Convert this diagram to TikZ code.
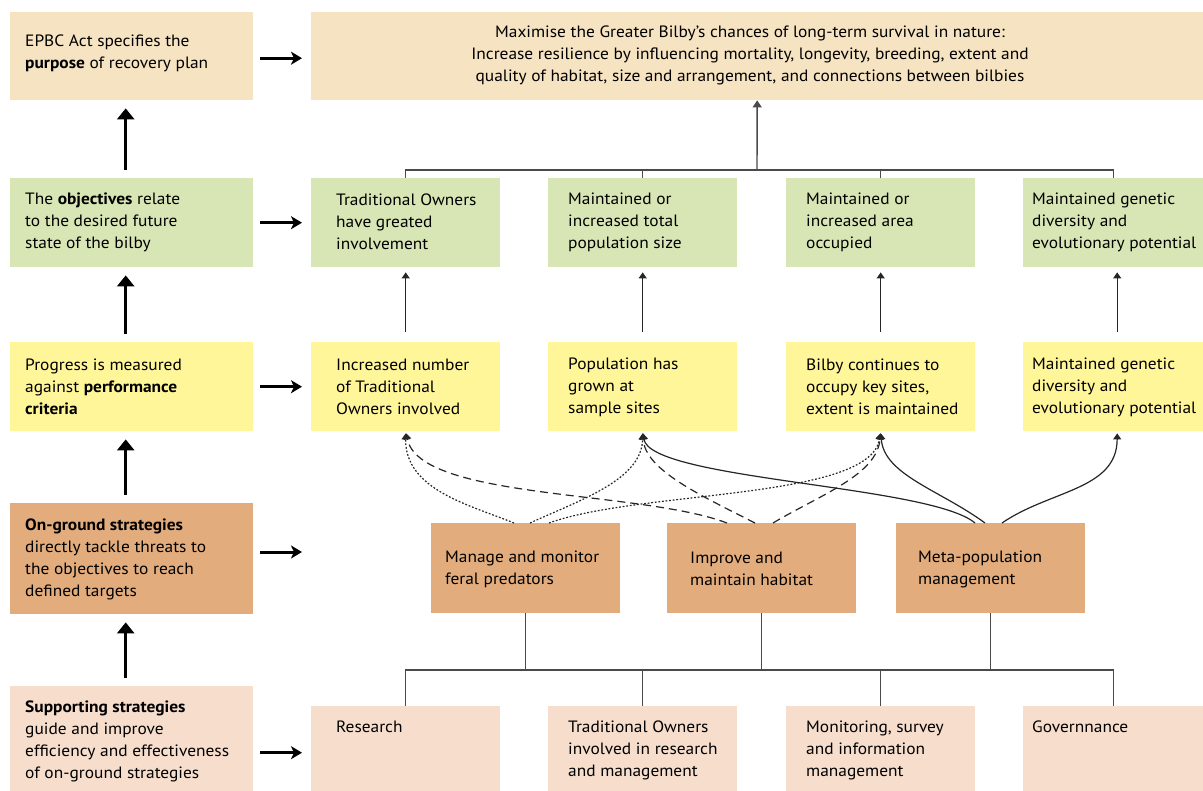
\documentclass[tikz,border=0pt]{standalone}
\usepackage{fontspec}
\setmainfont{PT Sans}[FakeStretch=1.06]
\usetikzlibrary{arrows.meta,calc}
\definecolor{cbeige}{HTML}{F5E3C1}
\definecolor{cgreen}{HTML}{D8E6B5}
\definecolor{cyellow}{HTML}{FFF599}
\definecolor{corange}{HTML}{E2AC7C}
\definecolor{cpeach}{HTML}{F6DDCC}
\definecolor{cline}{HTML}{4A4A4A}
\begin{document}
\begin{tikzpicture}[x=1pt,y=-1pt,
  box/.style={rectangle, draw=none, inner sep=0pt, anchor=north west},
  txt/.style={inner sep=0pt, align=left, anchor=west, font=\fontsize{16.4}{22}\selectfont, text=black},
  tree/.style={draw=cline, line width=1.4pt},
  link/.style={draw=black!85, line width=1.2pt, -{Triangle[width=8pt,length=6pt]}},
  bigup/.style={line width=3.5pt, -{Triangle[width=17pt,length=11pt]}, shorten <=8pt, shorten >=8pt},
  bigright/.style={line width=3pt, -{Stealth[width=13pt,length=11pt,inset=3pt]}, shorten <=7pt, shorten >=9pt},
  dotl/.style={dash pattern=on 1.8pt off 1.8pt},
  dashl/.style={dash pattern=on 8pt off 5pt},
]
\useasboundingbox (0,0) rectangle (1203,791);

% left column
\node[box, fill=cbeige, minimum width=243pt, minimum height=88pt] (l1) at (10,12) {};
\node[box, fill=cgreen, minimum width=243pt, minimum height=89pt] (l2) at (10,178) {};
\node[box, fill=cyellow, minimum width=243pt, minimum height=89pt] (l3) at (10,342) {};
\node[box, fill=corange, minimum width=243pt, minimum height=111pt] (l4) at (10,503) {};
\node[box, fill=cpeach, minimum width=243pt, minimum height=105pt] (l5) at (10,686) {};

% top
\node[box, fill=cbeige, minimum width=892pt, minimum height=88pt] (t) at (311,12) {};

% green
\node[box, fill=cgreen, minimum width=189pt, minimum height=89pt] (g1) at (311,178) {};
\node[box, fill=cgreen, minimum width=189pt, minimum height=89pt] (g2) at (548,178) {};
\node[box, fill=cgreen, minimum width=189pt, minimum height=89pt] (g3) at (786,178) {};
\node[box, fill=cgreen, minimum width=180pt, minimum height=89pt] (g4) at (1023,178) {};

% yellow
\node[box, fill=cyellow, minimum width=189pt, minimum height=89pt] (y1) at (311,342) {};
\node[box, fill=cyellow, minimum width=189pt, minimum height=89pt] (y2) at (548,342) {};
\node[box, fill=cyellow, minimum width=189pt, minimum height=89pt] (y3) at (786,342) {};
\node[box, fill=cyellow, minimum width=180pt, minimum height=89pt] (y4) at (1023,342) {};

% orange
\node[box, fill=corange, minimum width=189pt, minimum height=90pt] (o1) at (431,523) {};
\node[box, fill=corange, minimum width=189pt, minimum height=90pt] (o2) at (667,523) {};
\node[box, fill=corange, minimum width=189pt, minimum height=90pt] (o3) at (896,523) {};

% bottom
\node[box, fill=cpeach, minimum width=189pt, minimum height=85pt] (b1) at (311,706) {};
\node[box, fill=cpeach, minimum width=189pt, minimum height=85pt] (b2) at (548,706) {};
\node[box, fill=cpeach, minimum width=189pt, minimum height=85pt] (b3) at (786,706) {};
\node[box, fill=cpeach, minimum width=180pt, minimum height=85pt] (b4) at (1023,706) {};

% texts
\node[txt] (n1) at (25,53) {EPBC Act specifies the\\\textbf{purpose} of recovery plan};
\node[txt] (n2) at (25,222) {The \textbf{objectives} relate\\to the desired future\\state of the bilby};
\node[txt] (n3) at (25,387) {Progress is measured\\against \textbf{performance}\\\textbf{criteria}};
\node[txt] (n4) at (25,559) {\textbf{On-ground strategies}\\directly tackle threats to\\the objectives to reach\\defined targets};
\node[txt] (n5) at (25,741) {\textbf{Supporting strategies}\\guide and improve\\efficiency and effectiveness\\of on-ground strategies};

\node[txt, anchor=center, align=center] (tt) at (750,55.5) {Maximise the Greater Bilby’s chances of long-term survival in nature:\\Increase resilience by influencing mortality, longevity, breeding, extent and\\quality of habitat, size and arrangement, and connections between bilbies};

\node[txt] (gt1) at (336,222) {Traditional Owners\\have greated\\involvement};
\node[txt] (gt2) at (568,222) {Maintained or\\increased total\\population size};
\node[txt] (gt3) at (806,222) {Maintained or\\increased area\\occupied};
\node[txt] (gt4) at (1032,222) {Maintained genetic\\diversity and\\evolutionary potential};

\node[txt] (yt1) at (336,387) {Increased number\\of Traditional\\Owners involved};
\node[txt] (yt2) at (568,387) {Population has\\grown at\\sample sites};
\node[txt] (yt3) at (806,387) {Bilby continues to\\occupy key sites,\\extent is maintained};
\node[txt] (yt4) at (1032,387) {Maintained genetic\\diversity and\\evolutionary potential};

\node[txt] (ot1) at (445,569) {Manage and monitor\\feral predators};
\node[txt] (ot2) at (690,569) {Improve and\\maintain habitat};
\node[txt] (ot3) at (918,569) {Meta-population\\management};

\node[txt, anchor=north west] (bt1) at (336,721) {Research};
\node[txt, anchor=north west] (bt2) at (568,721) {Traditional Owners\\involved in research\\and management};
\node[txt, anchor=north west] (bt3) at (806,721) {Monitoring, survey\\and information\\management};
\node[txt, anchor=north west] (bt4) at (1032,721) {Governnance};

% left arrows
\draw[bigup] ([xshift=-6pt]l2.north) -- ([xshift=-6pt]l1.south);
\draw[bigup] ([xshift=-6pt]l3.north) -- ([xshift=-6pt]l2.south);
\draw[bigup] ([xshift=-6pt]l4.north) -- ([xshift=-6pt]l3.south);
\draw[bigup] ([xshift=-6pt]l5.north) -- ([xshift=-6pt]l4.south);

\coordinate (a4) at (311,552);
\draw[bigright] ([yshift=-2pt]l1.east) -- ([yshift=-2pt]t.west);
\draw[bigright] (l2.east) -- (g1.west);
\draw[bigright] (l3.east) -- (y1.west);
\draw[bigright] (l4.east |- a4) -- (a4);
\draw[bigright] ([yshift=-4pt]l5.east |- b1.west) -- ([yshift=-4pt]b1.west);

% top tree
\coordinate (tj) at (757,170);
\draw[tree] (g1.north) |- (tj) -| (g4.north);
\draw[tree] (g2.north) -- (g2.north |- tj);
\draw[tree] (g3.north) -- (g3.north |- tj);
\draw[tree, -{Triangle[width=9pt,length=7pt]}] (tj) -- (t.south);

% yellow -> green
\draw[link, shorten <=10pt, shorten >=5pt] (y1.north) -- (g1.south);
\draw[link, shorten <=10pt, shorten >=5pt] (y2.north) -- (g2.south);
\draw[link, shorten <=10pt, shorten >=5pt] (y3.north) -- (g3.south);
\draw[link, shorten <=10pt, shorten >=5pt] ([xshift=4pt]y4.north) -- ([xshift=4pt]g4.south);

% bottom tree
\coordinate (bj) at (757,670);
\draw[tree] (b1.north) |- (bj) -| (b4.north);
\draw[tree] (b2.north) -- (b2.north |- bj);
\draw[tree] (b3.north) -- (b3.north |- bj);
\draw[tree] (o1.south) -- (o1.south |- bj);
\draw[tree] (o2.south) -- (o2.south |- bj);
\draw[tree] (o3.south) -- (o3.south |- bj);

% strategy curves
\draw[link, dotl, shorten >=2pt] ([xshift=83pt]o1.north west) .. controls (470,505) and (405,490) .. (y1.south);
\draw[link, dotl, shorten >=2pt] ([xshift=99pt]o1.north west) .. controls (580,500) and (642,480) .. (y2.south);
\draw[link, dotl, shorten >=2pt] ([xshift=118pt]o1.north west) .. controls (640,490) and (870,500) .. (y3.south);

\draw[link, dashl, shorten >=2pt] ([xshift=60pt]o2.north west) .. controls (640,490) and (420,500) .. (y1.south);
\draw[link, dashl, shorten >=2pt] ([xshift=88pt]o2.north west) .. controls (700,495) and (645,470) .. (y2.south);
\draw[link, dashl, shorten >=2pt] ([xshift=106pt]o2.north west) .. controls (820,495) and (877,475) .. (y3.south);

\draw[link, shorten >=2pt] ([xshift=79pt]o3.north west) .. controls (930,485) and (650,480) .. (y2.south);
\draw[link, shorten >=2pt] ([xshift=89pt]o3.north west) .. controls (940,490) and (884,475) .. (y3.south);
\draw[link, shorten >=2pt] ([xshift=106pt]o3.north west) .. controls (1050,490) and (1117,490) .. ([xshift=4pt]y4.south);
\end{tikzpicture}
\end{document}
